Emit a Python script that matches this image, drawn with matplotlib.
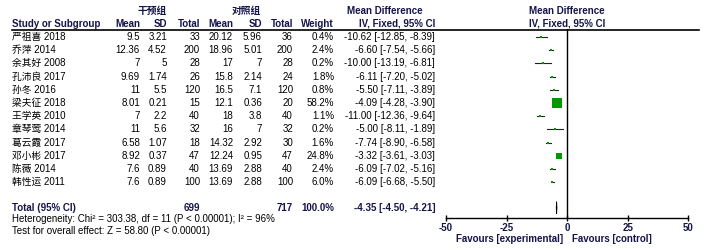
import numpy as np
import matplotlib
matplotlib.use("Agg")
import matplotlib.pyplot as plt

plt.rcParams['font.family'] = ['Liberation Sans', 'Noto Sans CJK SC', 'DejaVu Sans']

# datos del forest plot
estudios = ["严祖喜 2018", "乔萍 2014", "余其好 2008", "孔沛良 2017", "孙冬 2016", "梁夫征 2018",
            "王学英 2010", "章琴莺 2014", "葛云霞 2017", "邓小彬 2017", "陈薇 2014", "韩性运 2011"]
exp_media = [9.5, 12.36, 7, 9.69, 11, 8.01, 7, 11, 6.58, 8.92, 7.6, 7.6]
exp_sd = [3.21, 4.52, 5, 1.74, 5.5, 0.21, 2.2, 5.6, 1.07, 0.37, 0.89, 0.89]
exp_n = [33, 200, 28, 26, 120, 15, 40, 32, 18, 47, 40, 100]
ctl_media = [20.12, 18.96, 17, 15.8, 16.5, 12.1, 18, 16, 14.32, 12.24, 13.69, 13.69]
ctl_sd = [5.96, 5.01, 7, 2.14, 7.1, 0.36, 3.8, 7, 2.92, 0.95, 2.88, 2.88]
ctl_n = [36, 200, 28, 24, 120, 20, 40, 32, 30, 47, 40, 100]
peso = [0.4, 2.4, 0.2, 1.8, 0.8, 58.2, 1.1, 0.2, 1.6, 24.8, 2.4, 6.0]
dm = [-10.62, -6.60, -10.00, -6.11, -5.50, -4.09, -11.00, -5.00, -7.74, -3.32, -6.09, -6.09]
ic_bajo = [-12.85, -7.54, -13.19, -7.20, -7.11, -4.28, -12.36, -8.11, -8.90, -3.61, -7.02, -6.68]
ic_alto = [-8.39, -5.66, -6.81, -5.02, -3.89, -3.90, -9.64, -1.89, -6.58, -3.03, -5.16, -5.50]
total_exp, total_ctl = 699, 717
total_dm, total_bajo, total_alto = -4.35, -4.50, -4.21
ticks_x = [-50, -25, 0, 25, 50]

W, H = 704, 250
fig = plt.figure(figsize=(W / 100, H / 100), dpi=100)
ax = fig.add_axes([0, 0, 1, 1])
ax.set_xlim(0, W)
ax.set_ylim(H, 0)
ax.axis("off")

azul = "#14144a"
fs = 7
y0, dy = 37, 13.2
filas = [y0 + i * dy for i in range(len(estudios))]
y_total = 207.7

# cabeceras
ax.text(152, 11, "干预组", ha="center", va="center", fontsize=fs, fontweight="bold", color=azul)
ax.text(246, 11, "对照组", ha="center", va="center", fontsize=fs, fontweight="bold", color=azul)
ax.text(385, 11, "Mean Difference", ha="center", va="center", fontsize=fs, fontweight="bold", color=azul)
ax.text(567, 11, "Mean Difference", ha="center", va="center", fontsize=fs, fontweight="bold", color=azul)
ax.text(12, 24, "Study or Subgroup", ha="left", va="center", fontsize=fs, fontweight="bold", color=azul)
cols = [(140, "Mean"), (167, "SD"), (200, "Total"), (233, "Mean"), (262, "SD"), (293, "Total"), (334, "Weight"),
        (435, "IV, Fixed, 95% CI")]
for x, t in cols:
    ax.text(x, 24, t, ha="right", va="center", fontsize=fs, fontweight="bold", color=azul)
ax.text(567, 24, "IV, Fixed, 95% CI", ha="center", va="center", fontsize=fs, fontweight="bold", color=azul)
ax.plot([12, 699], [29.5, 29.5], color="black", lw=1.2)

# filas de estudios
for i, y in enumerate(filas):
    ax.text(12, y, estudios[i], ha="left", va="center", fontsize=fs)
    valores = [f"{exp_media[i]:g}", f"{exp_sd[i]:g}", str(exp_n[i]),
               f"{ctl_media[i]:g}", f"{ctl_sd[i]:g}", str(ctl_n[i]), f"{peso[i]:.1f}%",
               f"{dm[i]:.2f} [{ic_bajo[i]:.2f}, {ic_alto[i]:.2f}]"]
    for (x, _), v in zip(cols, valores):
        ax.text(x, y, v, ha="right", va="center", fontsize=fs)

# total
ax.text(12, y_total, "Total (95% CI)", ha="left", va="center", fontsize=fs, fontweight="bold", color=azul)
for x, v in [(200, str(total_exp)), (293, str(total_ctl)), (334, "100.0%"),
             (435, f"{total_dm:.2f} [{total_bajo:.2f}, {total_alto:.2f}]")]:
    ax.text(x, y_total, v, ha="right", va="center", fontsize=fs, fontweight="bold", color=azul)
ax.text(12, 219, "Heterogeneity: Chi² = 303.38, df = 11 (P < 0.00001); I² = 96%", ha="left", va="center", fontsize=fs)
ax.text(12, 230.7, "Test for overall effect: Z = 58.80 (P < 0.00001)", ha="left", va="center", fontsize=fs)

# forest plot
x_izq, x_der = 446, 688.3
y_eje, y_arriba = 218.3, 29.5
fx = fig.add_axes([x_izq / W, (H - y_eje) / H, (x_der - x_izq) / W, (y_eje - y_arriba) / H])
fx.set_xlim(-50, 50)
fx.set_ylim(y_eje, y_arriba)
fx.patch.set_alpha(0)
for s in ["top", "right", "left"]:
    fx.spines[s].set_visible(False)
fx.spines["bottom"].set_linewidth(1)
fx.set_yticks([])
fx.set_xticks(ticks_x)
fx.set_xticklabels([str(t) for t in ticks_x], fontsize=fs, fontweight="bold", color=azul)
fx.tick_params(axis="x", direction="inout", length=5, width=1, pad=1)
fx.axvline(0, color="black", lw=1)

for i, y in enumerate(filas):
    fx.plot([ic_bajo[i], ic_alto[i]], [y, y], color="#222222", lw=0.8)
    ms = max(np.sqrt(peso[i]) * 0.85, 1.6)
    fx.plot(dm[i], y, marker="s", ms=ms, color="#009a00", mec="#009a00", mew=0)

# rombo del total
fx.fill([total_bajo, total_dm, total_alto, total_dm], [y_total, y_total - 6, y_total, y_total + 6],
        facecolor="#444444", edgecolor="black", lw=0.6)

ax.text(563, 239, "Favours [experimental]", ha="right", va="center", fontsize=fs, fontweight="bold", color=azul)
ax.text(572, 239, "Favours [control]", ha="left", va="center", fontsize=fs, fontweight="bold", color=azul)

fig.savefig("out.png", dpi=100)
